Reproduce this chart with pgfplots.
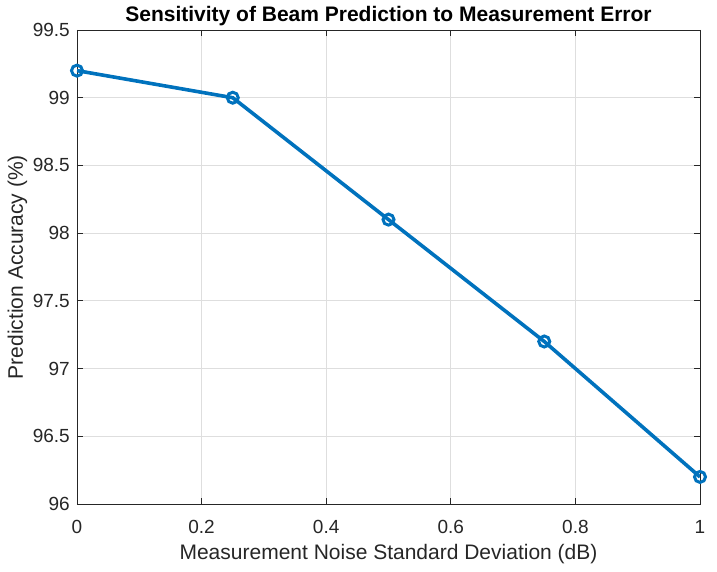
\documentclass[border=0pt]{standalone}
\usepackage{pgfplots}
\pgfplotsset{compat=1.18}
\usepackage{fontspec}
\setmainfont{Liberation Sans}
\definecolor{mblue}{RGB}{0,114,189}
\definecolor{axc}{RGB}{38,38,38}
\begin{document}
\begin{tikzpicture}[x=1pt,y=1pt]
\path[use as bounding box] (0,0) rectangle (717,571);
\begin{axis}[
  at={(77pt,67pt)}, anchor=south west,
  scale only axis, width=623pt, height=474pt,
  xmin=0, xmax=1, ymin=96, ymax=99.5,
  xtick={0,0.2,0.4,0.6,0.8,1},
  ytick={96,96.5,97,97.5,98,98.5,99,99.5},
  yticklabels={96,96.5,97,97.5,98,98.5,99,99.5},
  xticklabels={0,0.2,0.4,0.6,0.8,1},
  tick align=inside, tick pos=both,
  major tick length=6pt,
  grid=major,
  major grid style={color=black!13, line width=0.8pt},
  axis line style={color=axc, line width=0.9pt},
  tick style={color=axc, line width=0.9pt},
  tick label style={font=\fontsize{19}{22}\selectfont, color=axc},
  xticklabel style={inner sep=0pt, yshift=-16pt},
  yticklabel style={inner sep=0pt, xshift=-7pt},
  label style={font=\fontsize{21}{24}\selectfont, color=axc},
  xlabel={Measurement Noise Standard Deviation (dB)},
  ylabel={Prediction Accuracy (\%)},
  xlabel style={at={(axis description cs:0.5,-0.1181)}, anchor=base, inner sep=0pt},
  ylabel style={at={(axis description cs:-0.0867,0.5)}, anchor=base, inner sep=0pt},
  every axis title shift=0pt,
  title={\textbf{Sensitivity of Beam Prediction to Measurement Error}},
  title style={font=\fontsize{21}{24}\selectfont, at={(axis description cs:0.5,1.0169)}, anchor=base, inner sep=0pt},
]
\addplot[color=mblue, line width=3.6pt, mark=o, mark size=5.5pt, mark options={line width=3pt}]
  coordinates {(0,99.2) (0.25,99.0) (0.5,98.1) (0.75,97.2) (1,96.2)};
\end{axis}
\end{tikzpicture}
\end{document}
